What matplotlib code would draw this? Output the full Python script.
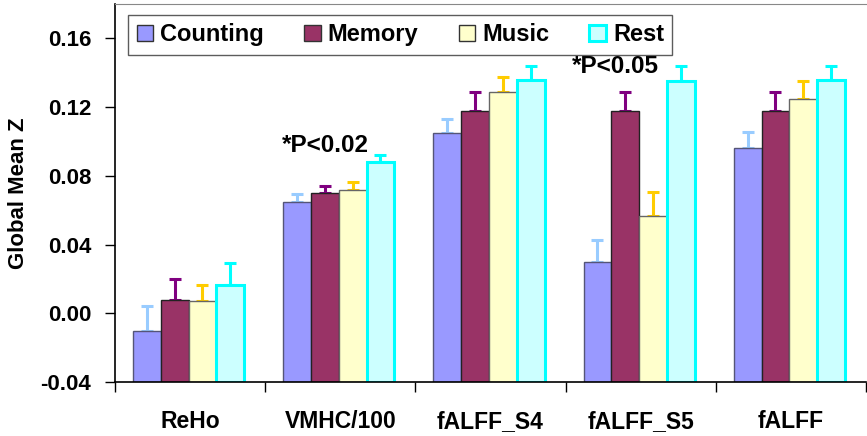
import numpy as np
import matplotlib
matplotlib.use("Agg")
import matplotlib.pyplot as plt
from matplotlib.patches import Patch

plt.rcParams['font.family'] = ['Liberation Sans', 'DejaVu Sans']
plt.rcParams['font.weight'] = 'bold'

# 資料
categories = ["ReHo", "VMHC/100", "fALFF_S4", "fALFF_S5", "fALFF"]
conditions = ["Counting", "Memory", "Music", "Rest"]
counting = [-0.0105, 0.0646, 0.1049, 0.0296, 0.0962]
memory = [0.0080, 0.0699, 0.1176, 0.1176, 0.1176]
music = [0.0070, 0.0717, 0.1290, 0.0566, 0.1248]
rest = [0.0164, 0.0880, 0.1355, 0.1351, 0.1355]
counting_err = [0.0148, 0.0049, 0.0080, 0.0130, 0.0093]
memory_err = [0.0117, 0.0043, 0.0111, 0.0111, 0.0111]
music_err = [0.0094, 0.0048, 0.0086, 0.0139, 0.0102]
rest_err = [0.0126, 0.0044, 0.0087, 0.0091, 0.0087]
notes = ["*P<0.02", "*P<0.05"]

fill_colors = ["#9999FF", "#993366", "#FFFFCC", "#CCFFFF"]
edge_colors = ["#555577", "#222222", "#666666", "#00FFFF"]
edge_widths = [1.0, 1.0, 1.0, 2.2]
err_colors = ["#99CCFF", "#800080", "#FFCC00", "#00FFFF"]

values = [counting, memory, music, rest]
errors = [counting_err, memory_err, music_err, rest_err]

fig = plt.figure(figsize=(8.67, 4.36), dpi=100)
ax = fig.add_axes([0.1326, 0.1239, 0.8662, 0.8669])

base = -0.04
w = 0.185
x = np.arange(len(categories)) + 0.49
for i in range(4):
    pos = x + (i - 1.5) * w
    v = np.array(values[i])
    ax.bar(pos, v - base, bottom=base, width=w, color=fill_colors[i],
           edgecolor=edge_colors[i], linewidth=edge_widths[i], zorder=2)
    ax.errorbar(pos, v, yerr=[np.zeros(len(v)), errors[i]], fmt='none',
                ecolor=err_colors[i], elinewidth=2.2, capsize=4.5,
                capthick=2.2, zorder=1)

ax.set_xlim(0, 5)
ax.set_ylim(-0.04, 0.18)
ax.set_yticks([-0.04, 0.0, 0.04, 0.08, 0.12, 0.16])
ax.set_yticklabels(["-0.04", "0.00", "0.04", "0.08", "0.12", "0.16"])
ax.set_xticks(np.arange(0, 6))
ax.set_xticklabels([])
ax.set_xticks(np.arange(len(categories)) + 0.5, minor=True)
ax.set_xticklabels(categories, minor=True)
ax.tick_params(axis='x', which='major', length=7, width=1, direction='out')
ax.tick_params(axis='x', which='minor', length=0, pad=20, labelsize=16.5)
ax.tick_params(axis='y', length=7, width=1, direction='out', labelsize=16, pad=10)
ax.set_ylabel("Global Mean Z", fontsize=16, fontweight='bold', labelpad=8)

ax.spines['right'].set_visible(False)
ax.spines['top'].set_color('#888888')
for s in ['left', 'bottom']:
    ax.spines[s].set_color('black')
    ax.spines[s].set_linewidth(1.2)

ax.text(1.40, 0.0975, notes[0], fontsize=17.5, fontweight='bold', ha='center', va='center')
ax.text(3.33, 0.1435, notes[1], fontsize=17.5, fontweight='bold', ha='center', va='center')

handles = [Patch(facecolor=fill_colors[i], edgecolor=edge_colors[i] if i == 3 else '#333333',
                 linewidth=edge_widths[i]) for i in range(4)]
leg = ax.legend(handles, conditions, ncol=4, loc='upper left', bbox_to_anchor=(0.018, 0.971),
                fontsize=17, frameon=True, fancybox=False, edgecolor='#333333',
                handlelength=0.7, handleheight=0.7, handletextpad=0.3, columnspacing=1.7,
                borderpad=0.35, borderaxespad=0)
leg.get_frame().set_linewidth(1.0)

fig.savefig("out.png", dpi=100)
